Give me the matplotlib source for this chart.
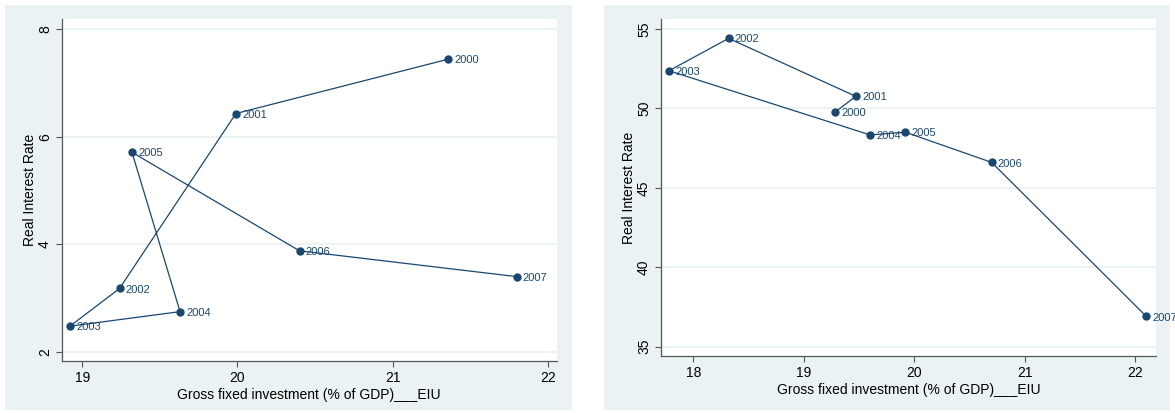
import matplotlib
matplotlib.use("Agg")
import matplotlib.pyplot as plt
from matplotlib.patches import Rectangle

plt.rcParams["font.family"] = ["Liberation Sans", "DejaVu Sans"]

# Panel A: investment vs real interest rate
years = ["2000", "2001", "2002", "2003", "2004", "2005", "2006", "2007"]
invest_a = [21.36, 19.99, 19.24, 18.92, 19.63, 19.32, 20.40, 21.80]
rate_a = [7.44, 6.43, 3.18, 2.48, 2.75, 5.71, 3.88, 3.40]

# Panel B
invest_b = [19.28, 19.47, 18.32, 17.78, 19.60, 19.92, 20.70, 22.10]
rate_b = [49.75, 50.76, 54.41, 52.37, 48.33, 48.50, 46.60, 36.90]

xticks_a = [19, 20, 21, 22]
yticks_a = [2, 4, 6, 8]
xticks_b = [18, 19, 20, 21, 22]
yticks_b = [35, 40, 45, 50, 55]

xlabel = "Gross fixed investment (% of GDP)___EIU"
ylabel = "Real Interest Rate"

NAVY = "#1a476f"
BG = "#eaf2f3"
W, H = 1175, 413

fig = plt.figure(figsize=(W / 100, H / 100), dpi=100, facecolor="white")


def px_box(x0, y0, x1, y1):
    return [x0 / W, (H - y1) / H, (x1 - x0) / W, (y1 - y0) / H]


# outer graph regions
for (x0, y0, x1, y1) in [(5, 5, 572, 410), (604, 5, 1170, 410)]:
    b = px_box(x0, y0, x1, y1)
    fig.patches.append(Rectangle((b[0], b[1]), b[2], b[3], transform=fig.transFigure,
                                 facecolor=BG, edgecolor="none", zorder=-10))


def panel(box, xs, ys, xt, yt, xlim, ylim):
    ax = fig.add_axes(px_box(*box))
    ax.set_zorder(1)
    ax.set_facecolor("white")
    ax.plot(xs, ys, color=NAVY, lw=0.9, marker="o", ms=5, mfc=NAVY, mec=NAVY, zorder=3)
    for x, y, t in zip(xs, ys, years):
        ax.annotate(t, (x, y), xytext=(4.5, -0.8), textcoords="offset points",
                    ha="left", va="center", fontsize=8, color=NAVY,
                    annotation_clip=False, clip_on=False, zorder=4)
    ax.set_xlim(*xlim)
    ax.set_ylim(*ylim)
    ax.set_xticks(xt)
    ax.set_yticks(yt)
    ax.set_yticklabels([str(v) for v in yt], rotation=90, va="center")
    for s in ["top", "right"]:
        ax.spines[s].set_visible(False)
    for s in ["left", "bottom"]:
        ax.spines[s].set_color("#555555")
        ax.spines[s].set_linewidth(0.9)
    ax.tick_params(axis="both", length=4.5, width=0.8, color="#555555",
                   labelsize=10, labelcolor="black")
    ax.tick_params(axis="x", pad=2.5)
    ax.tick_params(axis="y", pad=2.5)
    ax.grid(axis="y", color=BG, lw=1.3, zorder=0)
    ax.set_axisbelow(True)
    ax.set_xlabel(xlabel, fontsize=10, labelpad=2.5)
    ax.set_ylabel(ylabel, fontsize=10, labelpad=0.5)
    return ax


panel((61.7, 19.3, 556.7, 361), invest_a, rate_a, xticks_a, yticks_a,
      (18.867, 22.058), (1.833, 8.18))
panel((660.7, 19.3, 1156, 356), invest_b, rate_b, xticks_b, yticks_b,
      (17.705, 22.187), (34.41, 55.61))

fig.savefig("out.png", dpi=100, facecolor="white")
